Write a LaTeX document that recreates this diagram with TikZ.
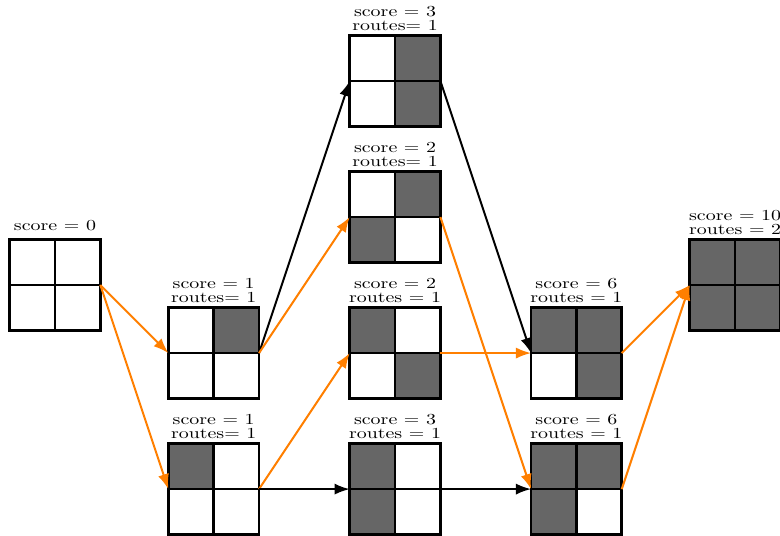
\documentclass[tikz,border=0pt]{standalone}
\usepackage{graphicx}
\usetikzlibrary{arrows.meta}

\definecolor{cellgray}{RGB}{102,102,102}
\definecolor{pathorange}{RGB}{255,127,0}

\tikzset{
  board/.style={minimum size=1.6cm, inner sep=0pt, outer sep=0pt},
  gridline/.style={line width=1.3pt},
  lab/.style={anchor=south, inner sep=0.3pt, font=\fontsize{10}{8.3}\selectfont},
  route/.style={line width=1pt, -{Latex[length=7.6pt,width=5.6pt]}},
  best/.style={route, draw=pathorange, fill=pathorange},
  plain/.style={route, draw=black, fill=black},
}

% #1 name, #2 position, #3-#6 fills of the four cells (TL, TR, BL, BR),
% #7 label text, #8 extra lift of the label
\newcommand{\drawboard}[8]{%
  \node[board] (#1) at (#2) {};
  \fill[#3] (#1.north west) rectangle (#1.center);
  \fill[#4] (#1.north) rectangle (#1.east);
  \fill[#5] (#1.west) rectangle (#1.south);
  \fill[#6] (#1.center) rectangle (#1.south east);
  \draw[gridline] (#1.north west) rectangle (#1.south east)
                  (#1.north) -- (#1.south) (#1.west) -- (#1.east);
  \node[lab, yshift=#8] (#1-lab) at (#1.north)
    {\scalebox{1}[0.77]{\begin{tabular}{@{}c@{}}#7\end{tabular}}};
}

\begin{document}
\begin{tikzpicture}[x=0.8cm, y=0.8cm]
  \clip (-1.213,-5.515) rectangle (15.99,6.287);

  \drawboard{A}{0,0}{white}{white}{white}{white}{score = 0}{2pt}
  \drawboard{B1}{3.5,-1.5}{white}{cellgray}{white}{white}{score = 1\\routes= 1}{0pt}
  \drawboard{B2}{3.5,-4.5}{cellgray}{white}{white}{white}{score = 1\\routes= 1}{0pt}
  \drawboard{C1}{7.5,4.5}{white}{cellgray}{white}{cellgray}{score = 3\\routes= 1}{0pt}
  \drawboard{C2}{7.5,1.5}{white}{cellgray}{cellgray}{white}{score = 2\\routes= 1}{0pt}
  \drawboard{C3}{7.5,-1.5}{cellgray}{white}{white}{cellgray}{score = 2\\routes = 1}{0pt}
  \drawboard{C4}{7.5,-4.5}{cellgray}{white}{cellgray}{white}{score = 3\\routes = 1}{0pt}
  \drawboard{D1}{11.5,-1.5}{cellgray}{cellgray}{white}{cellgray}{score = 6\\routes = 1}{0pt}
  \drawboard{D2}{11.5,-4.5}{cellgray}{cellgray}{cellgray}{white}{score = 6\\routes = 1}{0pt}
  \drawboard{E}{15,0}{cellgray}{cellgray}{cellgray}{cellgray}{score = 10\\routes = 2}{0pt}

  % moves between boards
  \draw[best]  (A.east)  -- (B1.west);
  \draw[best]  (A.east)  -- (B2.west);
  \draw[plain] (B1.east) -- (C1.west);
  \draw[best]  (B1.east) -- (C2.west);
  \draw[best]  (B2.east) -- (C3.west);
  \draw[plain] (B2.east) -- (C4.west);
  \draw[plain] (C1.east) -- (D1.west);
  \draw[best]  (C2.east) -- (D2.west);
  \draw[best]  (C3.east) -- (D1.west);
  \draw[plain] (C4.east) -- (D2.west);
  \draw[best]  (D1.east) -- (E.west);
  \draw[best]  (D2.east) -- (E.west);
\end{tikzpicture}
\end{document}
